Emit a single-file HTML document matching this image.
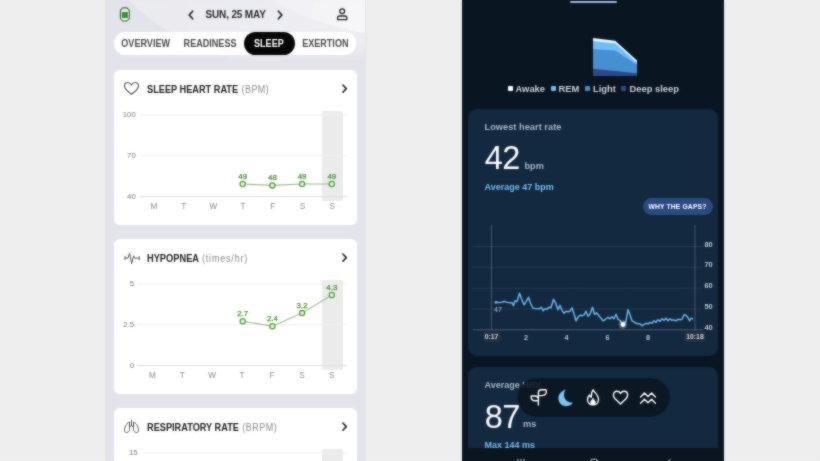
<!DOCTYPE html>
<html lang="en">
<head>
<meta charset="utf-8">
<title>Sleep</title>
<style>
*{box-sizing:border-box;margin:0;padding:0}
html,body{width:820px;height:461px;overflow:hidden;background:#eeeeee}
body{position:relative;font-family:"Liberation Sans",sans-serif;-webkit-font-smoothing:antialiased}
.abs{position:absolute}
.t{position:absolute;white-space:nowrap;line-height:1}
#stage{position:absolute;left:-12px;top:-12px;width:844px;height:485px;background:#eee}
#soft{position:absolute;left:-20px;top:-20px;width:860px;height:501px;-webkit-backdrop-filter:blur(1px);backdrop-filter:blur(1px);opacity:.55;pointer-events:none}
.in{position:absolute;left:0;top:12px;width:100%;height:461px}
/* left phone */
#lp{position:absolute;left:117px;top:0;width:260.6px;height:485px;background:#e3e4ea;overflow:hidden}
#lp .hdrbg{position:absolute;left:0;top:0;width:260px;height:70px}
.tabs{position:absolute;left:9px;top:32px;width:242px;height:23px;border-radius:11.5px;background:#fff}
.tab{position:absolute;top:0;height:23px;line-height:24px;font-size:10.3px;font-weight:700;color:#4a4a4a;text-align:center;white-space:nowrap}
.tab b{display:inline-block;transform:scaleX(.88);transform-origin:50% 50%}
.tab.on{background:#050505;color:#fff;border-radius:11.5px}
.card{position:absolute;left:9px;width:242.6px;height:155px;border-radius:6px;background:#fff}
.ct{position:absolute;left:32.5px;top:14px;font-size:10.3px;font-weight:700;color:#222;white-space:nowrap;line-height:12px;transform:scaleX(.9);transform-origin:0 50%}
.ct span{font-weight:400;color:#8a8a8a;letter-spacing:.9px;font-size:10px;margin-left:.8px}
.yl{position:absolute;width:20.2px;text-align:right;font-size:7.8px;color:#777;line-height:8px;left:0}
.xl{position:absolute;width:20px;text-align:center;font-size:8.2px;color:#888;line-height:8px}
.dl{position:absolute;width:24px;text-align:center;font-size:7.9px;font-weight:400;color:#4a8a33;line-height:8px;-webkit-text-stroke:.25px #4a8a33}
/* right phone */
#rp{position:absolute;left:474px;top:0;width:262px;height:485px;background:#0b1622;overflow:hidden;color:#fff}
.rcard{position:absolute;left:6px;width:250px;border-radius:9px;background:#13293f}
</style>
</head>
<body>
<div id="stage">
<div id="lp"><div class="in">
  <svg class="hdrbg" viewBox="0 0 260 70" preserveAspectRatio="none">
    <defs>
      <linearGradient id="g1" x1="0" y1="0" x2="1" y2="0"><stop offset="0" stop-color="#e9eaef"/><stop offset="1" stop-color="#eeeef2"/></linearGradient>
      <linearGradient id="g2" x1="0" y1="0" x2="1" y2="0"><stop offset="0" stop-color="#f0f0f4"/><stop offset="1" stop-color="#f6f6f8"/></linearGradient>
    </defs>
    <linearGradient id="gm" x1="0" y1="0" x2="0" y2="1"><stop offset="0" stop-color="#fff"/><stop offset=".55" stop-color="#fff"/><stop offset=".9" stop-color="#000"/></linearGradient>
    <mask id="mk"><rect width="260" height="70" fill="url(#gm)"/></mask>
    <g mask="url(#mk)"><path d="M24 0 Q60 38 130 60 L150 70 L260 70 L260 0Z" fill="url(#g1)"/>
    <path d="M168 0 Q205 24 260 33 L260 0Z" fill="url(#g2)"/></g>
  </svg>
  <!-- watch icon -->
  <svg class="abs" style="left:0;top:0" width="40" height="30" viewBox="0 0 40 30">
    <path d="M17.7 7.9 H22 L24.3 10.4 V18.5 L22 21 H17.7 L15.4 18.5 V10.4 Z" fill="#dff5db" stroke="#555" stroke-width="1.1" stroke-linejoin="round"/>
    <rect x="16.8" y="12" width="6.1" height="5.9" rx=".6" fill="#2c9a2a"/>
  </svg>
  <svg class="abs" style="left:82px;top:9px" width="8" height="12" viewBox="0 0 8 12"><path d="M5.6 2.2 L2.2 6 L5.6 9.8" fill="none" stroke="#222" stroke-width="1.7" stroke-linecap="round" stroke-linejoin="round"/></svg>
  <div class="t" style="left:100.5px;top:9.8px;font-size:10px;font-weight:700;color:#2a2a2a;letter-spacing:-.15px">SUN, 25 MAY</div>
  <svg class="abs" style="left:171px;top:9px" width="8" height="12" viewBox="0 0 8 12"><path d="M2.4 2.2 L5.8 6 L2.4 9.8" fill="none" stroke="#222" stroke-width="1.7" stroke-linecap="round" stroke-linejoin="round"/></svg>
  <svg class="abs" style="left:230px;top:7px" width="14" height="15" viewBox="0 0 14 15">
    <circle cx="7.2" cy="4.3" r="2.4" fill="none" stroke="#222" stroke-width="1.3"/>
    <path d="M2.6 12.6 v-1.6 q0 -2 2 -2 h5.2 q2 0 2 2 v1.6 z" fill="none" stroke="#222" stroke-width="1.3" stroke-linejoin="round"/>
  </svg>

  <div class="tabs">
    <div class="tab" style="left:0;width:63px"><b>OVERVIEW</b></div>
    <div class="tab" style="left:62px;width:68px"><b>READINESS</b></div>
    <div class="tab on" style="left:129.5px;width:51.5px"><b>SLEEP</b></div>
    <div class="tab" style="left:181px;width:61px"><b>EXERTION</b></div>
  </div>

  <!-- card 1 -->
  <div class="card" style="top:70px">
    <svg class="abs" style="left:9px;top:11px" width="17" height="15" viewBox="0 0 17 15"><path d="M8.5 13.2 C3 9.5 1.5 7 1.5 4.8 C1.5 2.8 3 1.5 4.8 1.5 C6.3 1.5 7.6 2.3 8.5 3.8 C9.4 2.3 10.7 1.5 12.2 1.5 C14 1.5 15.5 2.8 15.5 4.8 C15.5 7 14 9.5 8.5 13.2Z" fill="none" stroke="#555" stroke-width="1.2"/></svg>
    <div class="ct" style="transform:scaleX(.893)">SLEEP HEART RATE <span style="letter-spacing:.6px">(BPM)</span></div>
    <svg class="abs" style="left:227px;top:13px" width="7" height="11" viewBox="0 0 7 11"><path d="M1.9 2 L5.3 5.6 L1.9 9.2" fill="none" stroke="#222" stroke-width="1.6" stroke-linecap="round" stroke-linejoin="round"/></svg>
    <div class="abs" style="left:208px;top:41px;width:21px;height:90px;border-radius:2px;background:#ebebeb"></div>
    <svg class="abs" style="left:0;top:0" width="242" height="155" viewBox="0 0 242 155">
      <g stroke="#efefef" stroke-width="1"><path d="M25.5 45H233M25.5 85.5H233"/></g>
      <path d="M25.5 126.6H233" stroke="#dedede" stroke-width="1"/>
      <path d="M128.7 114 L158.4 115.4 L188.1 114 L217.8 114" fill="none" stroke="#9bb690" stroke-width="1.1"/>
      <g fill="#e4f6de" stroke="#4f9e36" stroke-width="1.3"><circle cx="128.7" cy="114" r="2.6"/><circle cx="158.4" cy="115.4" r="2.6"/><circle cx="188.1" cy="114" r="2.6"/><circle cx="217.8" cy="114" r="2.6"/></g>
    </svg>
    <div class="yl" style="width:21.8px;top:41px">100</div>
    <div class="yl" style="width:21.8px;top:81.5px">70</div>
    <div class="yl" style="width:21.8px;top:122.6px">40</div>
    <div class="xl" style="left:30.0px;top:132.8px">M</div>
    <div class="xl" style="left:59.7px;top:132.8px">T</div>
    <div class="xl" style="left:89.4px;top:132.8px">W</div>
    <div class="xl" style="left:119.1px;top:132.8px">T</div>
    <div class="xl" style="left:148.8px;top:132.8px">F</div>
    <div class="xl" style="left:178.5px;top:132.8px">S</div>
    <div class="xl" style="left:208.2px;top:132.8px">S</div>
    <div class="dl" style="left:116.7px;top:102.5px">49</div>
    <div class="dl" style="left:146.4px;top:103.9px">48</div>
    <div class="dl" style="left:176.1px;top:102.5px">49</div>
    <div class="dl" style="left:205.8px;top:102.5px">49</div>
  </div>

  <!-- card 2 -->
  <div class="card" style="top:239px">
    <svg class="abs" style="left:0;top:0" width="40" height="40" viewBox="0 0 40 40"><path d="M11 17.6V20.6M11 19.1H14L15.6 14.2L17.6 24.8L19.6 16.8L21.2 19.6L22.6 19.1H25.2M25.2 17.6V20.6" fill="none" stroke="#555" stroke-width="1" stroke-linecap="round" stroke-linejoin="round"/></svg>
    <div class="ct">HYPOPNEA <span>(times/hr)</span></div>
    <svg class="abs" style="left:227px;top:13px" width="7" height="11" viewBox="0 0 7 11"><path d="M1.9 2 L5.3 5.6 L1.9 9.2" fill="none" stroke="#222" stroke-width="1.6" stroke-linecap="round" stroke-linejoin="round"/></svg>
    <div class="abs" style="left:208px;top:41px;width:21px;height:90px;border-radius:2px;background:#ebebeb"></div>
    <svg class="abs" style="left:0;top:0" width="242" height="155" viewBox="0 0 242 155">
      <g stroke="#efefef" stroke-width="1"><path d="M23 45H233M23 85.5H233"/></g>
      <path d="M23 126.6H233" stroke="#dedede" stroke-width="1"/>
      <path d="M128.7 82.3 L158.4 87.2 L188.1 74.1 L217.8 56" fill="none" stroke="#9bb690" stroke-width="1.1"/>
      <g fill="#e4f6de" stroke="#4f9e36" stroke-width="1.3"><circle cx="128.7" cy="82.3" r="2.6"/><circle cx="158.4" cy="87.2" r="2.6"/><circle cx="188.1" cy="74.1" r="2.6"/><circle cx="217.8" cy="56" r="2.6"/></g>
    </svg>
    <div class="yl" style="top:41px">5</div>
    <div class="yl" style="top:81.5px">2.5</div>
    <div class="yl" style="top:122.6px">0</div>
    <div class="xl" style="left:28.4px;top:132.8px">M</div>
    <div class="xl" style="left:58.3px;top:132.8px">T</div>
    <div class="xl" style="left:88.2px;top:132.8px">W</div>
    <div class="xl" style="left:118.1px;top:132.8px">T</div>
    <div class="xl" style="left:148.0px;top:132.8px">F</div>
    <div class="xl" style="left:177.9px;top:132.8px">S</div>
    <div class="xl" style="left:207.8px;top:132.8px">S</div>
    <div class="dl" style="left:116.7px;top:71.0px">2.7</div>
    <div class="dl" style="left:146.4px;top:75.9px">2.4</div>
    <div class="dl" style="left:176.1px;top:62.8px">3.2</div>
    <div class="dl" style="left:205.8px;top:44.7px">4.3</div>
  </div>

  <!-- card 3 -->
  <div class="card" style="top:408px">
    <svg class="abs" style="left:9px;top:11px" width="17" height="15" viewBox="0 0 17 15"><path d="M8.5 1 V6.5 M8.5 6.5 L6.5 8 M8.5 6.5 L10.5 8 M6.3 3.2 C4.5 3.2 1.5 7 1.5 11.5 C1.5 13.5 3 13.8 4.5 13.2 C6 12.6 6.5 12 6.5 10.5 V3.5 M10.7 3.2 C12.5 3.2 15.5 7 15.5 11.5 C15.5 13.5 14 13.8 12.5 13.2 C11 12.6 10.5 12 10.5 10.5 V3.5" fill="none" stroke="#555" stroke-width="1" stroke-linecap="round" stroke-linejoin="round"/></svg>
    <div class="ct" style="transform:scaleX(.893)">RESPIRATORY RATE <span style="letter-spacing:.6px">(BRPM)</span></div>
    <svg class="abs" style="left:227px;top:13px" width="7" height="11" viewBox="0 0 7 11"><path d="M1.9 2 L5.3 5.6 L1.9 9.2" fill="none" stroke="#222" stroke-width="1.6" stroke-linecap="round" stroke-linejoin="round"/></svg>
    <div class="abs" style="left:208px;top:41px;width:21px;height:90px;border-radius:2px;background:#ebebeb"></div>
    <svg class="abs" style="left:0;top:0" width="242" height="155" viewBox="0 0 242 155">
      <g stroke="#efefef" stroke-width="1"><path d="M27.6 45H233"/></g>
    </svg>
    <div class="yl" style="width:23.6px;top:41px">15</div>
  </div>
</div></div>

<div id="rp"><div class="in">
  <div class="abs" style="left:108px;top:1px;width:47px;height:1.5px;border-radius:1px;background:#9db7d8"></div>
  <!-- sleep stage shape -->
  <svg class="abs" style="left:129px;top:36px" width="48" height="42" viewBox="0 0 48 42">
    <path d="M2 2 L24.2 4.8 L46 24.6 L46 40 L2 40Z" fill="#eaf5ff"/>
    <path d="M2 5 L24.6 7.4 L46 26.8 L46 40 L2 40Z" fill="#6fbef7"/>
    <path d="M2 13.3 L24.2 14.6 L46 28.8 L46 40 L2 40Z" fill="#4590d1"/>
    <path d="M2 32.7 L46 37.2 L46 40 L2 40Z" fill="#2c4a8c"/>
  </svg>
  <!-- legend -->
  <div class="abs" style="left:46px;top:85.5px;width:5px;height:5px;border-radius:1px;background:#fff"></div>
  <div class="t" style="left:53.5px;top:84px;font-size:9.4px;font-weight:700;color:#c9d0d8">Awake</div>
  <div class="abs" style="left:88.5px;top:85.5px;width:5px;height:5px;border-radius:1px;background:#6ebcf5"></div>
  <div class="t" style="left:96.5px;top:84px;font-size:9.4px;font-weight:700;color:#c9d0d8">REM</div>
  <div class="abs" style="left:123px;top:85.5px;width:5px;height:5px;border-radius:1px;background:#3f8fd0"></div>
  <div class="t" style="left:131px;top:84px;font-size:9.4px;font-weight:700;color:#c9d0d8">Light</div>
  <div class="abs" style="left:159px;top:85.5px;width:5px;height:5px;border-radius:1px;background:#2c4a8c"></div>
  <div class="t" style="left:167.5px;top:84px;font-size:9.4px;font-weight:700;color:#c9d0d8">Deep sleep</div>

  <!-- card 1 -->
  <div class="rcard" style="top:109px;height:247px">
    <div class="t" style="left:16.5px;top:14.4px;font-size:9.2px;font-weight:700;color:#a9b5c3;letter-spacing:.05px">Lowest heart rate</div>
    <div class="t" style="left:16.8px;top:32.5px;font-size:32.5px;font-weight:400;color:#fff;letter-spacing:-.6px">42</div>
    <div class="t" style="left:56.5px;top:53px;font-size:9.2px;font-weight:700;color:#a9b5c3">bpm</div>
    <div class="t" style="left:16.5px;top:74px;font-size:9px;font-weight:700;color:#72bef0">Average 47 bpm</div>
    <div class="abs" style="left:174.5px;top:89px;width:70px;height:16.5px;border-radius:8.5px;background:#2a4a82;color:#fff;font-size:6.8px;font-weight:700;text-align:center;line-height:17px;letter-spacing:.1px">WHY THE GAPS?</div>
    <svg class="abs" style="left:0;top:0" width="250" height="247" viewBox="0 0 250 247">
      <g stroke="#40546e" stroke-width=".7" stroke-dasharray="1.6 1.2" fill="none">
        <path d="M5 137.5H235M5 158.2H235M5 179.2H235M5 200H235"/>
      </g>
      <path d="M5 220.8H235" stroke="#5a6b82" stroke-width=".8"/>
      <path d="M23.4 116V221M227 116V221" stroke="#5e6f86" stroke-width=".7"/>
      <path id="hr" transform="translate(0 .8)" d="M28 192.5 L31 192.8 L34 192.4 L36.5 191.5 L39 192.6 L42 193 L44 192.8 L45.5 196 L47 191 L49 192 L51.5 183.5 L53.5 189 L56 195 L58 192 L60.5 187.5 L62.5 193.5 L65 198.5 L68 198.8 L71 199 L73.5 197.5 L75 201 L77 199 L79 199.5 L81 197.5 L83 198 L85.5 189.5 L87.5 193 L90 200 L92 195.5 L94 200.5 L96 203.5 L98 201.5 L100 202 L102 201.5 L104 198 L106 204 L108 211 L110 207.5 L112 205.5 L114 206 L116 205 L118 201.5 L120 206.5 L122 204.5 L124.5 197.5 L126.5 204.5 L128.5 203 L130.5 205.5 L133 208.5 L135 211 L137.5 209.5 L140 207.5 L142 209 L144 207 L146 209 L148 204.5 L150 209.5 L152 210.5 L154 213.5 L156 214 L158 211 L160 200 L162 205 L164 211 L166 212 L168 213.5 L170 214 L172 214 L174 216 L176 214.5 L178 213.5 L180 214 L182 212.5 L184 213.5 L186 211 L188 212.5 L190 210 L192 211.5 L194 209 L196 210.5 L198 208.5 L200 211 L202 209 L204 210.5 L206 210 L208 211 L210 209.5 L212 210 L214 209.5 L216 205 L218 205.5 L220 208 L221.5 211 L223 208.5 L224.5 209" fill="none" stroke="#6ab8f0" stroke-width="1.45" stroke-linejoin="round" stroke-linecap="round"/>
      <circle cx="28" cy="193.3" r="1.4" fill="#6ebcf5"/>
      <circle cx="155" cy="215.5" r="4.2" fill="#fff" opacity=".25"/>
      <circle cx="155" cy="215.5" r="2.4" fill="#fff"/>
    </svg>
    <div class="t" style="left:26px;top:196.5px;font-size:7.2px;font-weight:400;color:#b8c4d2">47</div>
    <div class="t" style="left:236.5px;top:131.5px;font-size:7.4px;font-weight:700;color:#c0c8d2">80</div>
    <div class="t" style="left:236.5px;top:152.3px;font-size:7.4px;font-weight:700;color:#c0c8d2">70</div>
    <div class="t" style="left:236.5px;top:173.2px;font-size:7.4px;font-weight:700;color:#c0c8d2">60</div>
    <div class="t" style="left:236.5px;top:194px;font-size:7.4px;font-weight:700;color:#c0c8d2">50</div>
    <div class="t" style="left:236.5px;top:214.8px;font-size:7.4px;font-weight:700;color:#c0c8d2">40</div>
    <div class="abs" style="left:14.5px;top:222px;width:18px;height:11px;border-radius:2.5px;background:#223041;color:#d4dae2;font-size:6.8px;font-weight:700;text-align:center;line-height:11px">0:17</div>
    <div class="t" style="left:48px;top:224.5px;width:20px;text-align:center;font-size:7.2px;font-weight:700;color:#c0c8d2">2</div>
    <div class="t" style="left:88.5px;top:224.5px;width:20px;text-align:center;font-size:7.2px;font-weight:700;color:#c0c8d2">4</div>
    <div class="t" style="left:129.5px;top:224.5px;width:20px;text-align:center;font-size:7.2px;font-weight:700;color:#c0c8d2">6</div>
    <div class="t" style="left:170px;top:224.5px;width:20px;text-align:center;font-size:7.2px;font-weight:700;color:#c0c8d2">8</div>
    <div class="abs" style="left:216px;top:222px;width:22px;height:11px;border-radius:2.5px;background:#223041;color:#d4dae2;font-size:6.8px;font-weight:700;text-align:center;line-height:11px">10:18</div>
  </div>

  <!-- card 2 -->
  <div class="rcard" style="top:366.5px;height:110px">
    <div class="t" style="left:16.5px;top:14.5px;font-size:9px;font-weight:700;color:#a9b5c3">Average HRV</div>
    <div class="t" style="left:16.8px;top:34px;font-size:32.5px;font-weight:400;color:#fff;letter-spacing:-.6px">87</div>
    <div class="t" style="left:55px;top:53.5px;font-size:9.2px;font-weight:700;color:#a9b5c3">ms</div>
    <div class="t" style="left:16.5px;top:74px;font-size:9px;font-weight:700;color:#6dbcf0">Max 144 ms</div>
  </div>

  <!-- floating nav -->
  <svg class="abs" style="left:50px;top:370px" width="170" height="55" viewBox="0 0 170 55"><rect x="5.6" y="8.3" width="152.2" height="38.4" rx="19.2" fill="#0b1521" fill-opacity=".88"/></svg>
  <svg class="abs" style="left:55px;top:378px" width="152" height="38" viewBox="0 0 152 38">
    <g fill="none" stroke="#fff" stroke-width="1.4" stroke-linecap="round" stroke-linejoin="round">
      <!-- sprout -->
      <path d="M21.4 27 V14.5 C21.4 12.6 22.8 11.8 24.6 11.8 H29 C30.2 14.8 28.4 17.6 25 17.6 H22 M21.4 22.8 H18.2 C15.4 22.8 13.6 20.8 14.2 18 H17.6 C19.8 18 21.4 19.4 21.4 21.4"/>
      <!-- flame -->
      <path d="M76 11.8 C77.5 14.5 81.5 17 81.5 21.5 C81.5 24.8 79 26.8 76 26.8 C73 26.8 70.5 24.8 70.5 21.5 C70.5 19.5 71.5 18 72.5 17 C72.8 18.3 73.5 19 74.3 19.2 C74 16.5 74.5 14 76 11.8Z"/>
      <path d="M76 26.6 C74.4 26.6 73.6 25.4 73.6 24.2 C73.6 22.8 75 22 76 20.2 C77 22 78.4 22.8 78.4 24.2 C78.4 25.4 77.6 26.6 76 26.6Z" fill="#fff" stroke-width=".6"/>
      <!-- heart -->
      <path d="M103.5 26 L97.8 20.4 C96.8 19.4 96.4 18.2 96.4 17 C96.4 14.8 98 13.3 100 13.3 C101.5 13.3 102.7 14.1 103.5 15.4 C104.3 14.1 105.5 13.3 107 13.3 C109 13.3 110.6 14.8 110.6 17 C110.6 18.2 110.2 19.4 109.2 20.4Z"/>
      <!-- waves -->
      <path d="M123.6 19 L127.4 15 L131 18.6 L134.6 15 L138.4 19 M123.6 25.2 L127.4 21.2 L131 24.8 L134.6 21.2 L138.4 25.2"/>
    </g>
    <path d="M48.8 11.6 C44.5 13 41.4 16.5 41.4 20.2 C41.4 24.6 45 28.2 49.4 28.2 C52.2 28.2 54.7 26.8 56 24.6 C51 25 47 21.5 47 17 C47 15 47.6 13.2 48.8 11.6Z" fill="#7cc4f8"/>
  </svg>

  <!-- bottom bar -->
  <div class="abs" style="left:0;top:447.5px;width:262px;height:14px;background:#0b1521"></div>
  <svg class="abs" style="left:0;top:448px" width="262" height="14" viewBox="0 0 262 14">
    <g fill="none" stroke="#c8ccd2" stroke-width="1">
      <path d="M56 11V14M59 11V14M62 11V14"/>
      <rect x="128.5" y="11.3" width="7" height="6" rx="2"/>
      <path d="M208.5 11.2 L205 14"/>
    </g>
  </svg>
</div></div>
</div>
<div id="soft"></div>
</body>
</html>
